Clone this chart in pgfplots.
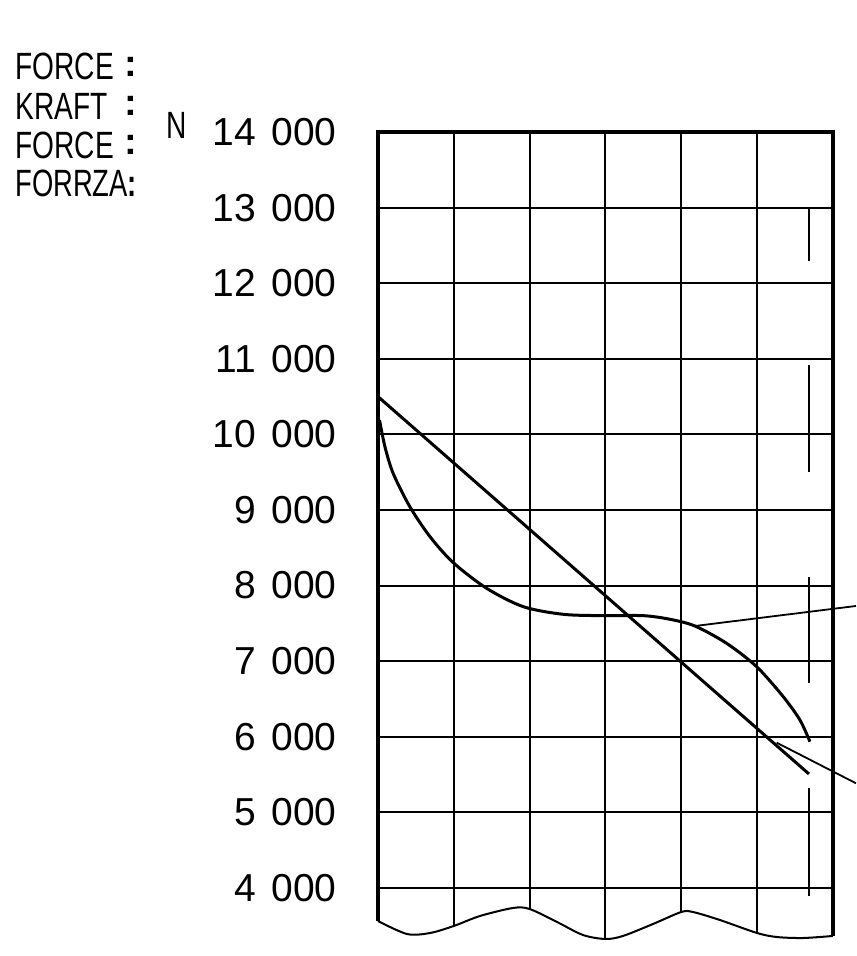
\documentclass[border=0pt]{standalone}
\usepackage{fontspec}
\setmainfont{Liberation Sans}
\usepackage{pgfplots}
\pgfplotsset{compat=1.18}
\newcommand{\lab}[1]{\scalebox{0.74}[1]{#1}}
\newcommand{\tl}[1]{#1\hspace{0.4em}000}
\begin{document}
\begin{tikzpicture}
\begin{axis}[
  scale only axis, width=227.5pt, height=404.5pt,
  xmin=0, xmax=6, ymin=3300, ymax=14000,
  axis line style={draw=none},
  xtick=\empty,
  scaled y ticks=false,
  ytick={4000,5000,6000,7000,8000,9000,10000,11000,12000,13000,14000},
  yticklabels={\tl{4},\tl{5},\tl{6},\tl{7},\tl{8},\tl{9},\tl{10},\tl{11},\tl{12},\tl{13},\tl{14}},
  major tick length=0pt,
  ymajorgrids, grid style={black, line width=1pt},
  yticklabel style={anchor=east, inner sep=0pt, xshift=-20.5pt, font=\fontsize{19.5}{21}\selectfont},
  clip=false,
]
% invisible frame for the page size
\path (axis cs:-4.985,15746) rectangle (axis cs:6.304,3100);
% frame
\addplot[black, line width=2.2pt, line join=miter] coordinates {(0,3563) (0,14000) (6,14000) (6,3365)};
% vertical grid lines
\addplot[black, line width=1pt] coordinates {(1,14000) (1,3497)};
\addplot[black, line width=1pt] coordinates {(2,14000) (2,3722)};
\addplot[black, line width=1pt] coordinates {(3,14000) (3,3325)};
\addplot[black, line width=1pt] coordinates {(4,14000) (4,3682)};
\addplot[black, line width=1pt] coordinates {(5,14000) (5,3404)};
% wavy break line
\addplot[black, line width=1pt, smooth] coordinates {
 (0,3563) (0.382,3391) (0.686,3404) (1,3497) (1.345,3629) (1.78,3735) (2,3722)
 (2.361,3550) (2.703,3378) (3,3325) (3.231,3365) (3.627,3523) (4,3682) (4.154,3682)
 (4.51,3576) (5,3404) (5.262,3351) (5.605,3338) (6,3365)};
% dash-like vertical marks
\addplot[black, line width=1pt] coordinates {(5.69,13012) (5.69,12298)};
\addplot[black, line width=1pt] coordinates {(5.69,10918) (5.69,9507)};
\addplot[black, line width=1pt] coordinates {(5.69,8114) (5.69,6707)};
\addplot[black, line width=1pt] coordinates {(5.69,5318) (5.69,3894)};
% straight characteristic
\addplot[black, line width=1.5pt] coordinates {(0,10500) (5.684,5508)};
% curved characteristic
\addplot[black, line width=1.5pt, smooth] coordinates {
 (0.02,10190) (0.092,9837) (0.20,9485) (0.42,9044) (0.686,8647) (0.993,8303)
 (1.433,7964) (1.916,7721) (2.444,7620) (2.971,7602) (3.499,7602) (3.85,7554)
 (4.18,7465) (4.598,7236) (4.994,6927) (5.345,6530) (5.565,6222) (5.697,5935)};
% leader lines
\addplot[black, line width=0.9pt] coordinates {(4.18,7465) (6.304,7730)};
\addplot[black, line width=0.9pt] coordinates {(5.258,5922) (6.304,5385)};
% axis title
\node[anchor=west, inner sep=0pt, font=\fontsize{19}{21}\selectfont] at (axis cs:-4.787,14866) {\lab{FORCE}};
\node[anchor=west, inner sep=0pt, font=\fontsize{19}{21}\selectfont] at (axis cs:-4.787,14344) {\lab{KRAFT}};
\node[anchor=west, inner sep=0pt, font=\fontsize{19}{21}\selectfont] at (axis cs:-4.787,13828) {\lab{FORCE}};
\node[anchor=west, inner sep=0pt, font=\fontsize{19}{21}\selectfont] at (axis cs:-4.787,13325) {\scalebox{0.72}[1]{FORRZA\textbf{:}}};
\node[anchor=east, inner sep=0pt, font=\fontsize{19}{21}\selectfont\bfseries] at (axis cs:-3.165,14866) {:};
\node[anchor=east, inner sep=0pt, font=\fontsize{19}{21}\selectfont\bfseries] at (axis cs:-3.165,14344) {:};
\node[anchor=east, inner sep=0pt, font=\fontsize{19}{21}\selectfont\bfseries] at (axis cs:-3.165,13828) {:};
\node[inner sep=0pt, font=\fontsize{19}{21}\selectfont] at (axis cs:-2.657,14093) {\lab{N}};
\end{axis}
\end{tikzpicture}
\end{document}
